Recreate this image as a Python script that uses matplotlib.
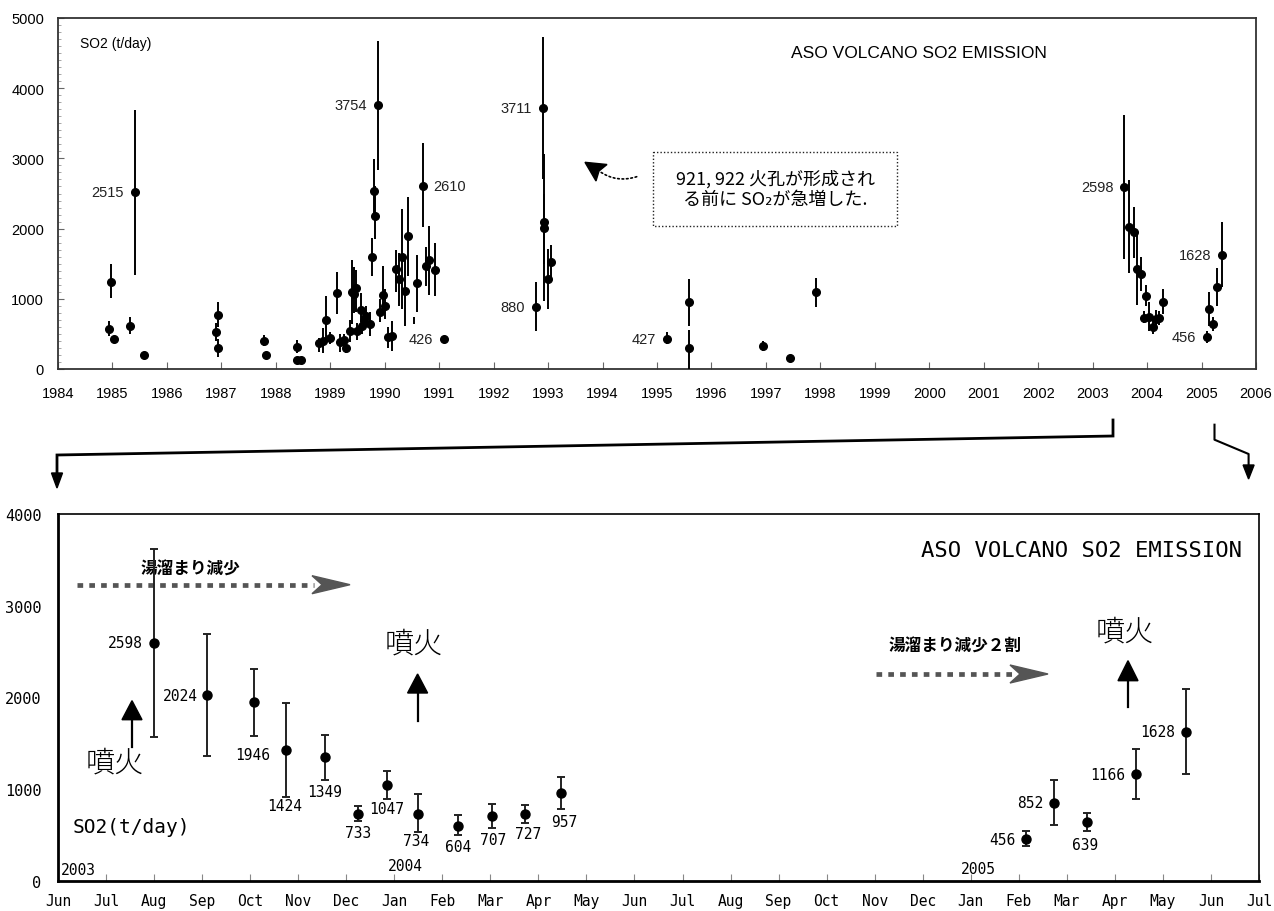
import matplotlib
matplotlib.use('Agg')
import matplotlib.pyplot as plt
import numpy as np
from matplotlib.patches import Polygon, Rectangle
from matplotlib.ticker import MultipleLocator

# ---------------- long-term record 1984-2003 (top panel) ----------------
hist_year = [1984.94, 1984.975, 1985.03, 1985.33, 1985.41, 1985.58,
             1986.91, 1986.93, 1986.94, 1987.78, 1987.82,
             1988.38, 1988.39, 1988.47, 1988.79, 1988.86, 1988.92,
             1989.00, 1989.12, 1989.18, 1989.26, 1989.28, 1989.37, 1989.40,
             1989.44, 1989.47, 1989.50, 1989.56, 1989.59, 1989.62, 1989.66,
             1989.73, 1989.77, 1989.80, 1989.83, 1989.87, 1989.91, 1989.96,
             1990.01, 1990.06, 1990.14, 1990.20, 1990.26, 1990.32, 1990.37,
             1990.42, 1990.59, 1990.70, 1990.75, 1990.81, 1990.93, 1991.09,
             1992.77, 1992.90, 1992.92, 1992.93, 1992.99, 1993.05,
             1995.18, 1995.58, 1995.58, 1996.95, 1997.45, 1997.92]
hist_val = [570, 1245, 427, 617, 2515, 204,
            522, 299, 769, 404, 199,
            318, 128, 128, 370, 404, 703,
            442, 1083, 380, 418, 294, 546, 1092,
            1068, 1150, 537, 840, 617, 689, 750,
            636, 1600, 2531, 2185, 3754, 807, 1059,
            902, 460, 465, 1425, 1282, 1591, 1111,
            1895, 1220, 2610, 1462, 1548, 1415, 426,
            880, 3711, 2089, 2013, 1282, 1529,
            427, 950, 299, 332, 157, 1092]
hist_lo = [475, 1007, 400, 499, 1339, 204,
           400, 176, 600, 323, 199,
           228, 128, 128, 238, 223, 404,
           356, 783, 240, 320, 230, 380, 641,
           800, 807, 420, 665, 500, 580, 620,
           475, 1330, 2137, 1852, 2840, 665, 807,
           712, 300, 261, 1093, 900, 855, 617,
           1329, 817, 2018, 1187, 1054, 1035, 426,
           546, 2707, 1500, 973, 855, 1282,
           356, 617, 0, 261, 110, 878]
hist_hi = [679, 1500, 455, 745, 3694, 204,
           650, 430, 950, 489, 199,
           417, 128, 128, 437, 584, 1044,
           522, 1387, 500, 500, 360, 698, 1553,
           1450, 1415, 650, 1083, 750, 800, 900,
           807, 1866, 2991, 2600, 4677, 997, 1463,
           1140, 600, 688, 1700, 1650, 2279, 1567,
           2446, 1624, 3219, 1743, 2033, 1790, 426,
           1235, 4725, 3062, 2500, 1709, 1766,
           522, 1282, 556, 403, 200, 1296]
# an error bar drawn without its marker in the original
lone_year = [1990.54]
lone_lo = [641]
lone_hi = [745]
# labelled points of the top panel (by year)
hist_label_years = [1985.41, 1989.87, 1990.70, 1991.09, 1992.90, 1992.77, 1995.18]

# ---------------- 2003-2005 record (both panels) ----------------
recent_month = [2.0, 3.11, 4.09, 4.75, 5.56, 6.25, 6.84, 7.49, 8.32, 9.03,
                9.72, 10.47, 20.15, 20.73, 21.42, 22.45, 23.49]   # months since 1 Jun 2003
recent_val = [2598, 2024, 1946, 1424, 1349, 733, 1047, 734, 604, 707,
              727, 957, 456, 852, 639, 1166, 1628]
recent_lo = [1573, 1362, 1580, 912, 1104, 650, 894, 538, 501, 581,
             629, 784, 377, 610, 541, 897, 1165]
recent_hi = [3619, 2692, 2311, 1940, 1595, 820, 1202, 948, 719, 843,
             831, 1136, 540, 1097, 741, 1439, 2088]
recent_labelled_top = [2598, 456, 1628]

top_years = list(range(1984, 2007))
top_yticks = [0, 1000, 2000, 3000, 4000, 5000]
month_labels = ['Jun', 'Jul', 'Aug', 'Sep', 'Oct', 'Nov', 'Dec',
                'Jan', 'Feb', 'Mar', 'Apr', 'May', 'Jun', 'Jul', 'Aug', 'Sep',
                'Oct', 'Nov', 'Dec', 'Jan', 'Feb', 'Mar', 'Apr', 'May', 'Jun', 'Jul']
bottom_yticks = [0, 1000, 2000, 3000, 4000]

# label placement (pixels) for the lower panel values
bottom_label_offsets = [(-11, 0, 'right'), (-10, 0, 'right'), (-2, -52, 'center'),
                        (-2, -55, 'center'), (0, -34, 'center'), (0, -19, 'center'),
                        (0, -24, 'center'), (-1.5, -27, 'center'), (0, -21, 'center'),
                        (1, -23, 'center'), (3, -19, 'center'), (3, -28, 'center'),
                        (-11, 0, 'right'), (-10.5, 0, 'right'), (-2, -22, 'center'),
                        (-11.5, 0, 'right'), (-11, 0, 'right')]

JP = ['Noto Sans CJK JP', 'DejaVu Sans']
MONO = ['DejaVu Sans Mono', 'Noto Sans CJK JP']
SANS = ['Liberation Sans', 'DejaVu Sans']

W, H = 1274, 912
fig = plt.figure(figsize=(W / 100, H / 100), dpi=100)

# ---------- overlay in pixel coordinates for decorations ----------
ov = fig.add_axes([0, 0, 1, 1])
ov.set_xlim(0, W)
ov.set_ylim(H, 0)
ov.axis('off')

# ---------------- top panel ----------------
ax1 = fig.add_axes([58 / W, (H - 370) / H, (1256 - 58) / W, (370 - 19) / H])
ax1.set_facecolor('none')
hy = np.array(hist_year); hv = np.array(hist_val)
hl = np.array(hist_lo); hh = np.array(hist_hi)
ax1.errorbar(hy, hv, yerr=[hv - hl, hh - hv], fmt='o', color='black', ms=5.5,
             elinewidth=1.4, capsize=0, zorder=3)
ax1.vlines(np.array(lone_year), lone_lo, lone_hi, color='black', lw=1.4)
rm = np.array(recent_month); rv = np.array(recent_val)
rl = np.array(recent_lo); rh = np.array(recent_hi)
ry = 2003 + (5 + rm) / 12.0
ax1.errorbar(ry, rv, yerr=[rv - rl, rh - rv], fmt='o', color='black', ms=5.5,
             elinewidth=1.4, capsize=0, zorder=3)

for yr in hist_label_years:
    i = hist_year.index(yr)
    txt = str(hist_val[i])
    if txt == '2610':
        ax1.annotate(txt, (hy[i], hv[i]), xytext=(10, 0), textcoords='offset pixels',
                     ha='left', va='center', fontsize=10.5, family=SANS, color='#222')
    else:
        ax1.annotate(txt, (hy[i], hv[i]), xytext=(-11, 0), textcoords='offset pixels',
                     ha='right', va='center', fontsize=10.5, family=SANS, color='#222')
for v in recent_labelled_top:
    i = recent_val.index(v)
    ax1.annotate(str(v), (ry[i], rv[i]), xytext=(-11, 0), textcoords='offset pixels',
                 ha='right', va='center', fontsize=10.5, family=SANS, color='#222')

ax1.set_xlim(1984, 2006)
ax1.set_ylim(0, 5000)
ax1.set_xticks(top_years)
ax1.set_xticklabels([str(y) for y in top_years], family=SANS, fontsize=10.5)
ax1.set_yticks(top_yticks)
ax1.set_yticklabels([str(v) for v in top_yticks], family=SANS, fontsize=10.5)
ax1.yaxis.set_minor_locator(MultipleLocator(100))
ax1.tick_params(axis='x', direction='in', length=5, pad=12, color='#666')
ax1.tick_params(axis='y', which='major', direction='in', length=4, pad=10, color='#666')
ax1.tick_params(axis='y', which='minor', direction='in', length=2, color='#999')
for s in ax1.spines.values():
    s.set_linewidth(1.3)
    s.set_color('#333')
ax1.text(0.7187, 0.903, 'ASO VOLCANO SO2 EMISSION', transform=ax1.transAxes,
         ha='center', va='center', fontsize=12.5, family=SANS)
ax1.text(0.0184, 0.929, 'SO2 (t/day)', transform=ax1.transAxes,
         ha='left', va='center', fontsize=10, family=SANS)

# ---------------- bottom panel ----------------
ax2 = fig.add_axes([58 / W, (H - 882) / H, (1259 - 58) / W, (882 - 515) / H])
ax2.set_facecolor('none')
ax2.errorbar(rm, rv, yerr=[rv - rl, rh - rv], fmt='o', color='black', ms=6.5,
             elinewidth=1.4, capsize=3.2, capthick=1.4, ecolor='#222', zorder=3)
for i, v in enumerate(recent_val):
    dx, dy, ha = bottom_label_offsets[i]
    ax2.annotate(str(v), (rm[i], rv[i]), xytext=(dx, dy), textcoords='offset pixels',
                 ha=ha, va='center', fontsize=10.5, family=MONO)
ax2.set_xlim(0, 25)
ax2.set_ylim(0, 4000)
ax2.set_xticks(range(len(month_labels)))
ax2.set_xticklabels(month_labels, family=MONO, fontsize=10.5)
ax2.set_yticks(bottom_yticks)
ax2.set_yticklabels([str(v) for v in bottom_yticks], family=MONO, fontsize=11)
ax2.tick_params(axis='x', direction='in', length=5, pad=9, color='#888')
ax2.tick_params(axis='y', length=0, pad=12)
for k in ['left', 'bottom']:
    ax2.spines[k].set_linewidth(2.0)
for k in ['top', 'right']:
    ax2.spines[k].set_linewidth(1.2)

# ---------------- decorations (pixel overlay) ----------------
# connector lines from top panel to bottom panel
ov.plot([1113, 1113, 57, 57], [421, 437, 456, 476], color='black', lw=2.0,
        solid_joinstyle='miter')
ov.add_patch(Polygon([[51.5, 474], [62.5, 474], [57, 489]], closed=True, color='black'))
ov.plot([1214.5, 1214.5, 1248.6, 1248.6], [425.7, 440.7, 455, 467], color='black', lw=1.5)
ov.add_patch(Polygon([[1243.1, 466], [1254.1, 466], [1248.6, 480]], closed=True, color='black'))

# annotation box in the top panel
ov.add_patch(Rectangle((652.5, 153.3), 244, 73.4, fill=False, ec='#222', lw=1.0,
                       ls=(0, (1, 1.5))))
ov.text(775, 179, '921, 922 火孔が形成され', ha='center', va='center',
        fontsize=13, family=JP)
ov.text(775, 200, 'る前に SO₂が急増した.', ha='center', va='center',
        fontsize=13, family=JP)
ov.annotate('', xy=(599, 172), xytext=(636.7, 177.7),
            arrowprops=dict(arrowstyle='-', linestyle=':', lw=1.2, color='black',
                            connectionstyle='arc3,rad=-0.25', shrinkA=0, shrinkB=0))
ov.add_patch(Polygon([[585, 163.3], [607, 165.5], [599, 172], [596, 182]],
                     closed=True, color='black'))

# bottom panel texts
ov.text(1242, 551, 'ASO VOLCANO SO2 EMISSION', ha='right', va='center',
        fontsize=16, family=MONO)
ov.text(73, 828, 'SO2(t/day)', ha='left', va='center', fontsize=14, family=MONO)
ov.text(61, 871, '2003', ha='left', va='center', fontsize=10.5, family=MONO)
ov.text(388, 867, '2004', ha='left', va='center', fontsize=10.5, family=MONO)
ov.text(961, 870, '2005', ha='left', va='center', fontsize=10.5, family=MONO)

for (cx, cy) in [(114.5, 763.5), (413.5, 644.5), (1124.5, 632.5)]:
    ov.text(cx, cy, '噴火', ha='center', va='center', fontsize=21, family=JP,
            fontweight='light')

for (ax_, y_bot, y_base, y_tip) in [(132, 748, 720.7, 701.7),
                                     (417.6, 721.7, 694, 675),
                                     (1128, 708, 681.7, 661.7)]:
    ov.plot([ax_, ax_], [y_bot, y_base], color='black', lw=1.6)
    ov.add_patch(Polygon([[ax_ - 10, y_base], [ax_ + 10, y_base], [ax_, y_tip]],
                         closed=True, color='black'))

ov.text(190, 569.5, '湯溜まり減少', ha='center', va='center', fontsize=12,
        family=JP, fontweight='bold')
ov.text(955.5, 646.5, '湯溜まり減少２割', ha='center', va='center', fontsize=12,
        family=JP, fontweight='bold')

for (x0, x1, yy) in [(77, 322, 585.7), (876, 1020, 675)]:
    ov.plot([x0, x1 - 8], [yy, yy], color='#555', lw=3.4, ls=(0, (1.2, 1.3)),
            solid_capstyle='butt', dash_capstyle='butt')
    ov.add_patch(Polygon([[x1 - 10, yy - 9], [x1 + 28, yy], [x1 - 10, yy + 9],
                          [x1, yy]], closed=True, color='#555'))

# draw the chart axes above the overlay
ax1.set_zorder(2)
ax2.set_zorder(2)
ov.set_zorder(1)

fig.savefig('out.png', dpi=100)
